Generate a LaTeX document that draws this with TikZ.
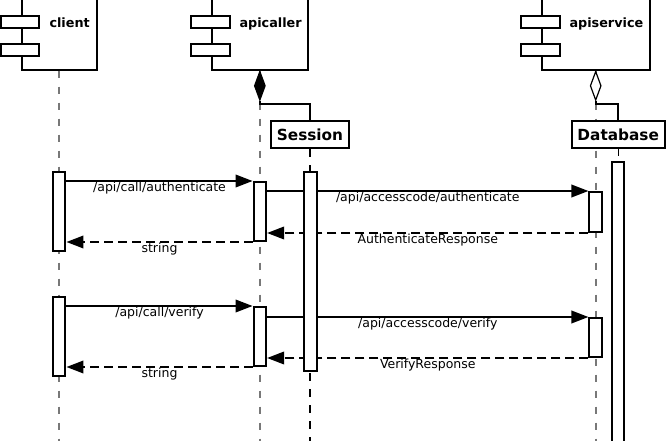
\documentclass[tikz,border=0pt]{standalone}
\usepackage{fontspec}
\setmainfont{DejaVu Sans}
\usetikzlibrary{arrows.meta,shapes.geometric}
\definecolor{lifegray}{RGB}{120,120,120}
\begin{document}
\begin{tikzpicture}[x=1pt,y=-1pt,
  box/.style={draw, line width=2pt, fill=white, inner sep=0pt},
  comp/.style={box, minimum height=79.7pt},
  port/.style={box, minimum width=38.5pt, minimum height=12.3pt},
  act/.style={box, minimum width=12.5pt, anchor=north},
  title/.style={font=\fontsize{12.8}{14}\selectfont\bfseries, anchor=base west, inner sep=0pt},
  obj/.style={box, font=\fontsize{15.3}{17}\selectfont\bfseries, minimum height=27pt},
  dia/.style={diamond, draw, line width=1.2pt, minimum width=11pt, minimum height=29pt, inner sep=0pt, anchor=north},
  life/.style={draw=lifegray, line width=1.7pt, dash pattern=on 7.3pt off 8.7pt},
  lifeb/.style={draw=black, line width=1.2pt, dash pattern=on 7.3pt off 8.7pt},
  link/.style={line width=2pt},
  msg/.style={line width=2pt, -{Triangle[length=17pt,width=12.5pt]}},
  ret/.style={msg, dash pattern=on 9pt off 5pt},
  lbl/.style={font=\fontsize{12.5}{14}\selectfont, anchor=base, inner sep=0pt, yshift=-10pt}
]
\useasboundingbox (0,0) rectangle (667,441);
\coordinate (end) at (0,446);

% components
\node[comp, minimum width=75pt] (client) at (59.2,29.85) {};
\node[port] (cp1) at (20.2,21.85) {};
\node[port] (cp2) at (20.2,49.85) {};
\node[title] (clientlbl) at (49.3,27.3) {client};

\node[comp, minimum width=96.3pt] (apicaller) at (259.85,29.85) {};
\node[port] (ap1) at (210.7,21.85) {};
\node[port] (ap2) at (210.7,49.85) {};
\node[title] (apicallerlbl) at (239.3,27.3) {apicaller};

\node[comp, minimum width=108pt] (apiservice) at (595.7,29.85) {};
\node[port] (sp1) at (540.7,21.85) {};
\node[port] (sp2) at (540.7,49.85) {};
\node[title] (apiservicelbl) at (569.3,27.3) {apiservice};

% lifelines of the components
\draw[life] (client.south) -- (client.south |- end);
\draw[life] (apicaller.south) -- (apicaller.south |- end);
\draw[life] (apiservice.south) -- (apiservice.south |- end);

% owned objects
\node[obj, minimum width=78pt] (session) at (310,134.85) {Session};
\node[obj, minimum width=93pt] (database) at (618.2,134.5) {Database};
\draw[lifeb] (session.south) -- (session.south |- end);
\draw[lifeb] (database.south) -- (database.south |- end);

\node[dia, fill=black] (comp1) at (apicaller.south) {};
\node[dia, fill=white] (agg1) at (apiservice.south) {};
\draw[link] (comp1.south) -- ++(0,2.7) -| (session.north);
\draw[link] (agg1.south) -- ++(0,2.7) -| (database.north);

% activations
\node[act, minimum height=79pt] (ca1) at (59.2,171) {};
\node[act, minimum height=59pt] (aa1) at (259.85,181) {};
\node[act, minimum height=40pt] (db1) at (595.7,191) {};
\node[act, minimum height=79pt] (ca2) at (59.2,296) {};
\node[act, minimum height=59pt] (aa2) at (259.85,306) {};
\node[act, minimum height=39pt] (db2) at (595.7,317) {};

% messages
\draw[msg] (aa1.north west -| ca1.east) -- (aa1.north west) node[lbl, midway] {/api/call/authenticate};
\draw[msg] (db1.north west -| aa1.east) -- (db1.north west) node[lbl, midway] {/api/accesscode/authenticate};
\draw[ret] (db1.south west) -- (db1.south west -| aa1.east) node[lbl, midway] {AuthenticateResponse};
\draw[ret] (aa1.south west) -- (aa1.south west -| ca1.east) node[lbl, midway] {string};

\draw[msg] (aa2.north west -| ca2.east) -- (aa2.north west) node[lbl, midway] {/api/call/verify};
\draw[msg] (db2.north west -| aa2.east) -- (db2.north west) node[lbl, midway] {/api/accesscode/verify};
\draw[ret] (db2.south west) -- (db2.south west -| aa2.east) node[lbl, midway] {VerifyResponse};
\draw[ret] (aa2.south west) -- (aa2.south west -| ca2.east) node[lbl, midway] {string};

\node[act, minimum height=199pt] (se) at (310.3,171) {};
\node[act, minimum height=290pt] (dbact) at (618.2,161) {};
\end{tikzpicture}
\end{document}
